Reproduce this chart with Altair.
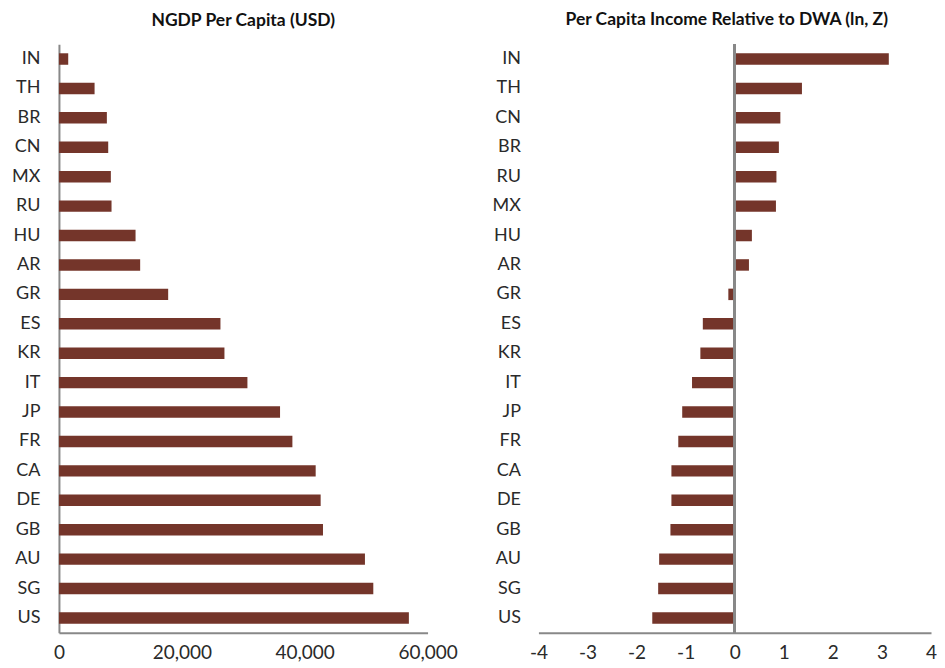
import altair as alt
import pandas as pd

# Left panel: NGDP per capita (USD)
ngdp_countries = ["IN", "TH", "BR", "CN", "MX", "RU", "HU", "AR", "GR", "ES",
                  "KR", "IT", "JP", "FR", "CA", "DE", "GB", "AU", "SG", "US"]
ngdp_values = [1510, 5800, 7800, 8020, 8450, 8560, 12470, 13220, 17780, 26290,
               26940, 30680, 35990, 38000, 41790, 42600, 42980, 49810, 51170, 56960]

# Right panel: per capita income relative to DWA (ln, Z)
rel_countries = ["IN", "TH", "CN", "BR", "RU", "MX", "HU", "AR", "GR", "ES",
                 "KR", "IT", "JP", "FR", "CA", "DE", "GB", "AU", "SG", "US"]
rel_values = [3.14, 1.37, 0.93, 0.90, 0.85, 0.84, 0.35, 0.29, -0.13, -0.65,
              -0.70, -0.87, -1.07, -1.15, -1.29, -1.29, -1.31, -1.54, -1.56, -1.68]

left_ticks = [0, 20000, 40000, 60000]
right_ticks = [-4, -3, -2, -1, 0, 1, 2, 3, 4]

BAR = "#74352A"
AXIS = "#888888"
FONT = "Lato"
LABEL = "#2a2a2a"

df1 = pd.DataFrame({"country": ngdp_countries, "value": ngdp_values})
df2 = pd.DataFrame({"country": rel_countries, "value": rel_values})

band = alt.Scale(paddingInner=0.61, paddingOuter=0.305)

left = alt.Chart(df1).mark_bar(color=BAR).encode(
    y=alt.Y("country:N", sort=ngdp_countries, scale=band,
            axis=alt.Axis(title=None, ticks=False, domain=True, domainColor=AXIS,
                          domainWidth=2, labelPadding=19, labelFontSize=18,
                          labelFont=FONT, labelColor=LABEL)),
    x=alt.X("value:Q", scale=alt.Scale(domain=[0, 60000], nice=False),
            axis=alt.Axis(title=None, values=left_ticks, format=",.0f",
                          grid=False, ticks=False, domainColor=AXIS, domainWidth=2,
                          labelPadding=11, labelFontSize=19, labelFont=FONT,
                          labelColor=LABEL, labelFlush=False)),
).properties(
    width=369, height=589,
    title=alt.TitleParams("NGDP Per Capita (USD)", font=FONT, fontSize=17.5,
                          fontWeight="bold", color="#111111", offset=15),
)

bars2 = alt.Chart(df2).mark_bar(color=BAR).encode(
    y=alt.Y("country:N", sort=rel_countries, scale=band,
            axis=alt.Axis(title=None, ticks=False, domain=False,
                          labelPadding=18, labelFontSize=18,
                          labelFont=FONT, labelColor=LABEL)),
    x=alt.X("value:Q", scale=alt.Scale(domain=[-4, 4], nice=False),
            axis=alt.Axis(title=None, values=right_ticks, labelExpr="'' + datum.value",
                          grid=False, ticks=False, domainColor=AXIS, domainWidth=2,
                          labelPadding=11, labelFontSize=19, labelFont=FONT,
                          labelColor=LABEL, labelFlush=False)),
)
zero = alt.Chart(df2).mark_rule(color=AXIS, strokeWidth=2).encode(x=alt.datum(0))

right = alt.layer(bars2, zero).properties(
    width=393, height=589,
    title=alt.TitleParams("Per Capita Income Relative to DWA (ln, Z)", font=FONT,
                          fontSize=17.5, fontWeight="bold", color="#111111",
                          offset=15, dx=-8),
)

chart = alt.hconcat(left, right, spacing=111, bounds="flush").configure_view(
    strokeWidth=0
).properties(
    padding={"left": 3, "top": 2, "right": 0, "bottom": 0},
    background="white",
)

chart.save("out.html", embed_options={"renderer": "svg", "actions": False})
